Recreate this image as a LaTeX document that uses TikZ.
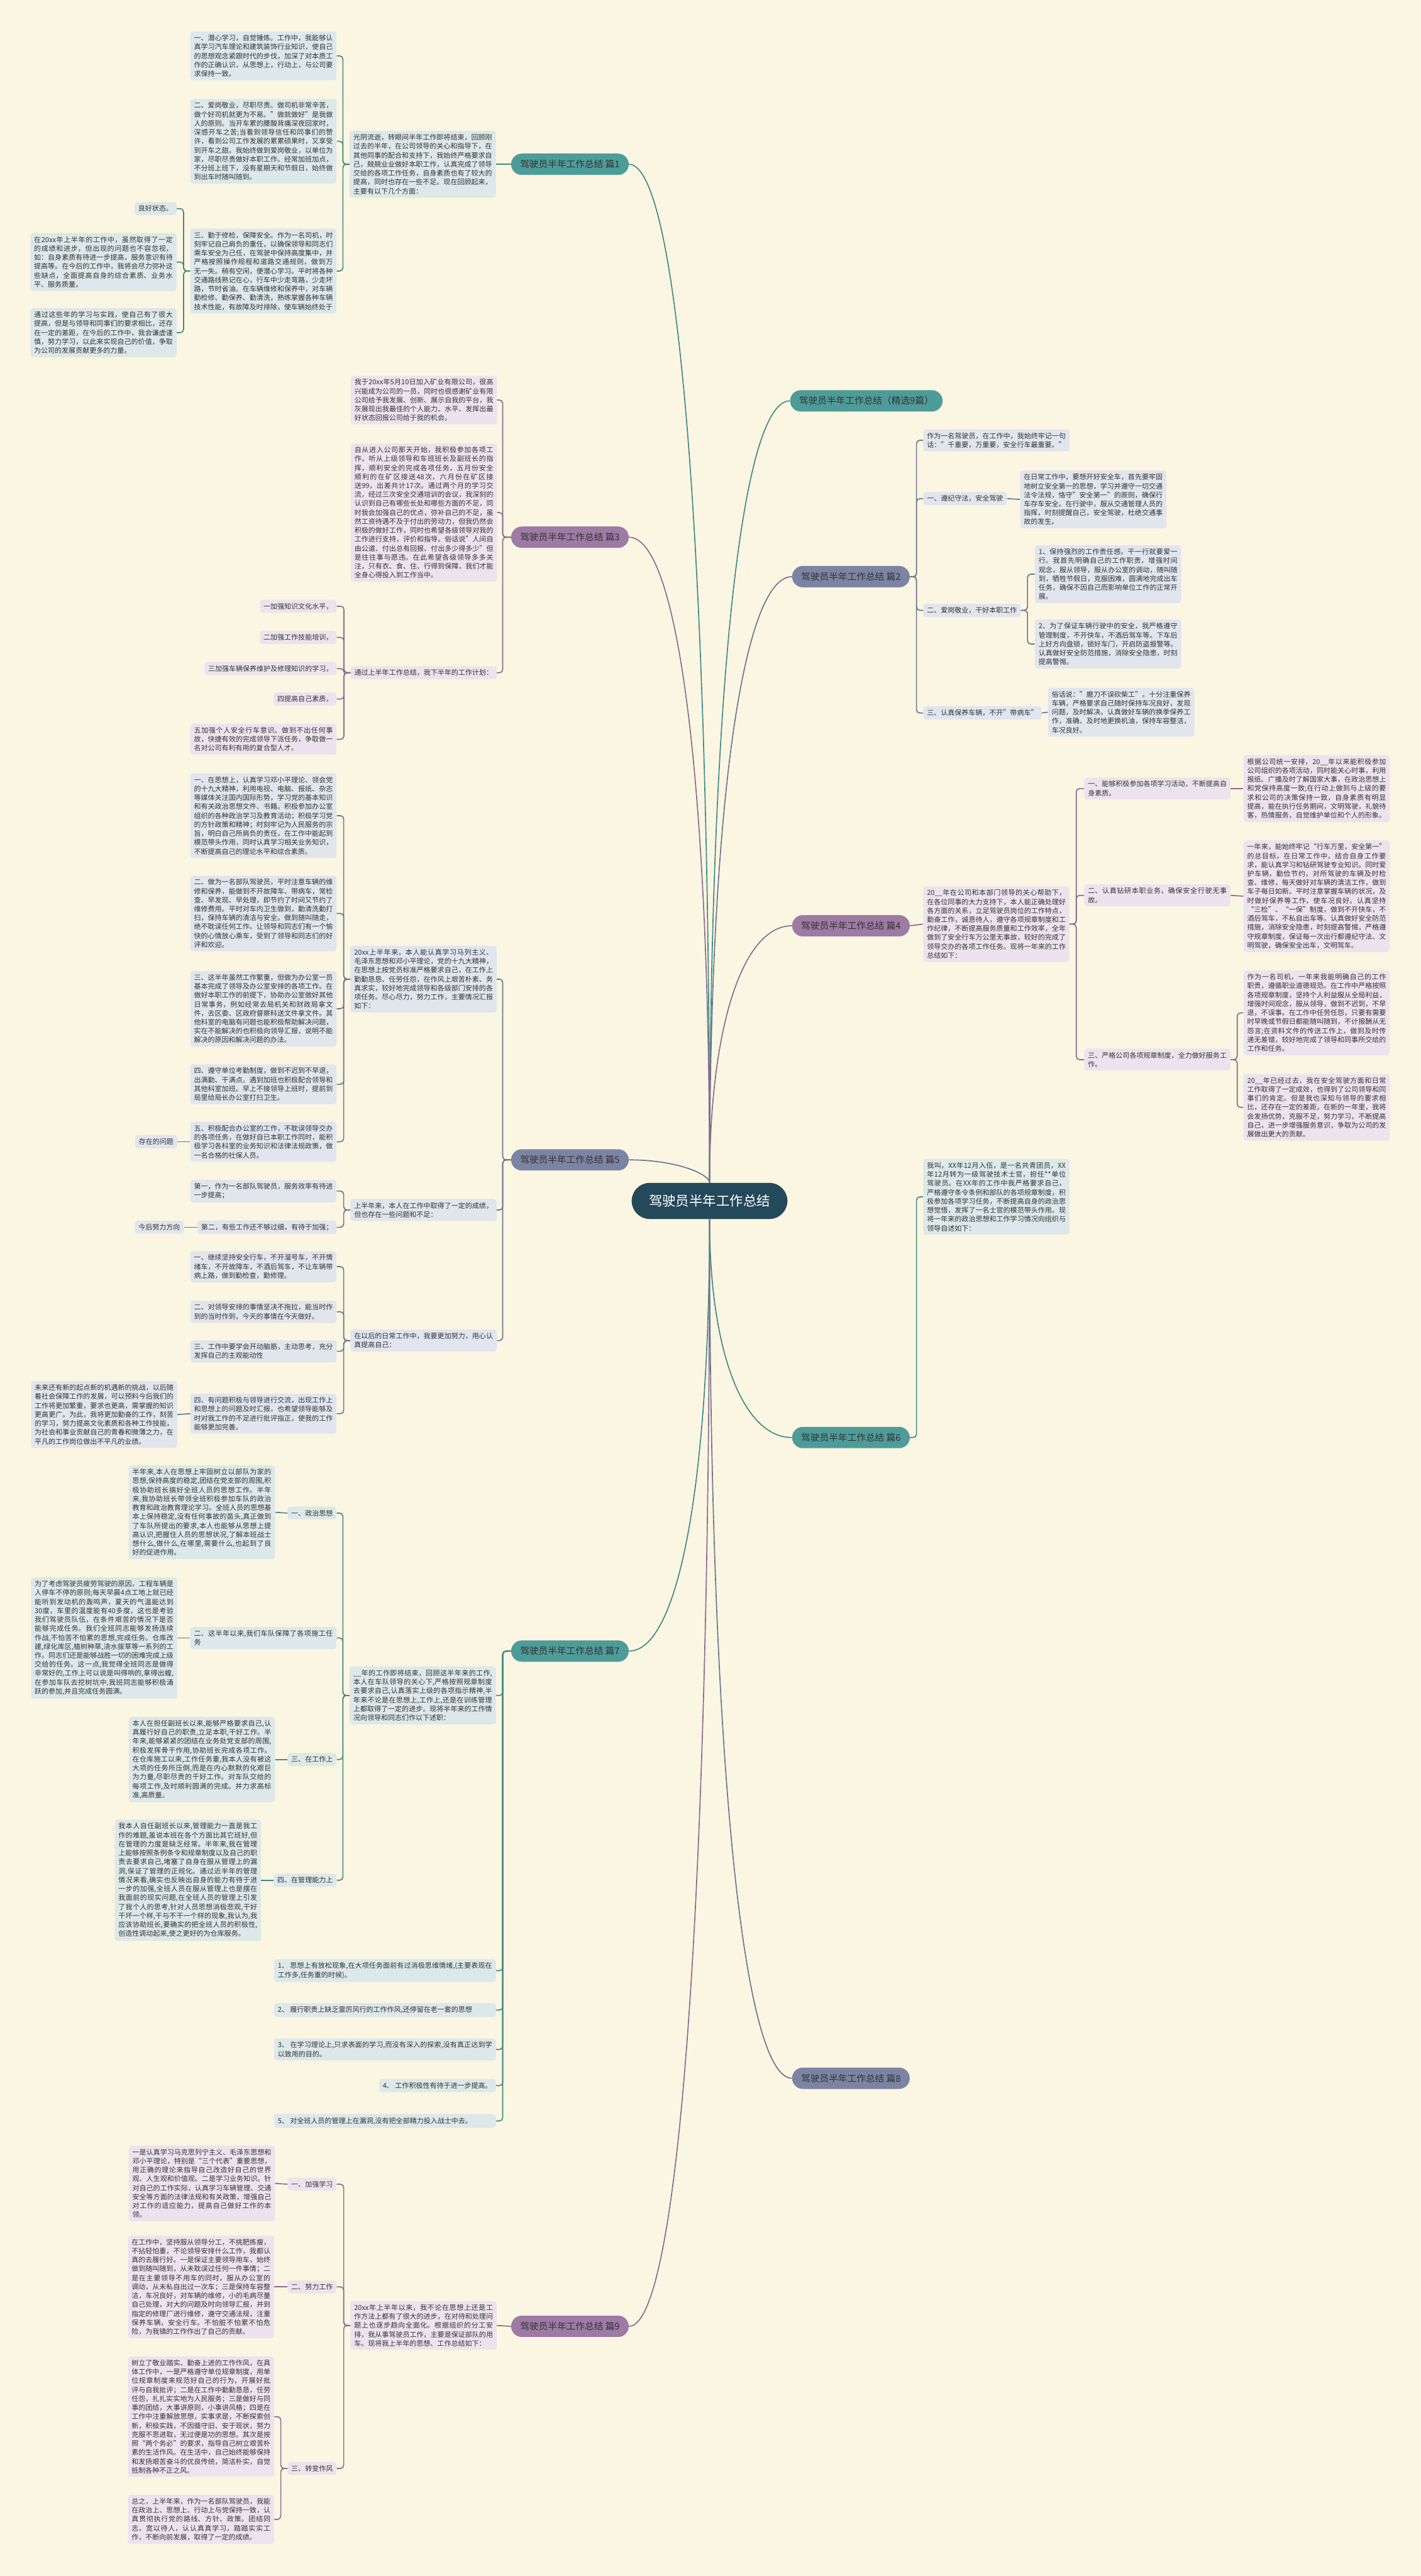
\documentclass[tikz,border=0pt]{standalone}
\usepackage{fontspec}
\setmainfont{Noto Sans CJK SC}
\XeTeXlinebreaklocale "zh"
\XeTeXlinebreakskip=0pt plus 1pt
\usetikzlibrary{positioning}

\definecolor{bgc}{HTML}{FBF6E1}
\definecolor{txtc}{HTML}{333333}
\definecolor{rootc}{HTML}{23495A}
\definecolor{tpill}{HTML}{4E9C9A}
\definecolor{tline}{HTML}{3F8A88}
\definecolor{tfill}{HTML}{DCE8E9}
\definecolor{ppill}{HTML}{9D7BA4}
\definecolor{pline}{HTML}{8C6A92}
\definecolor{pfill}{HTML}{EDE3EE}
\definecolor{gpill}{HTML}{7B85A3}
\definecolor{gline}{HTML}{6B7592}
\definecolor{gfill}{HTML}{E1E5EE}

\tikzset{
    % text boxes of the three branch colours
    box/.style={fill=#1, rounded corners=1mm, inner xsep=1.35mm, inner ysep=1.2mm,
                font=\fontsize{7.2}{9.3}\selectfont, text=txtc},
    tbox/.style={box=tfill, text width=50.7mm, align=justify},
    pbox/.style={box=pfill, text width=50.7mm, align=justify},
    gbox/.style={box=gfill, text width=50.7mm, align=justify},
    tlab/.style={box=tfill},
    plab/.style={box=pfill},
    glab/.style={box=gfill},
    pill/.style={fill=#1, rounded corners=3.9mm, minimum height=7.8mm, inner xsep=3.3mm,
                 font=\fontsize{9.6}{11}\selectfont, text=txtc},
}

\begin{document}
\begin{tikzpicture}[x=0.06cm, y=-0.06cm,
    tl/.style={draw=tline, line width=1.1pt, rounded corners=1.2mm},
    pl/.style={draw=pline, line width=1.1pt, rounded corners=1.2mm},
    gl/.style={draw=gline, line width=1.1pt, rounded corners=1.2mm},
    rootnode/.style={fill=rootc, rounded corners=6.6mm, minimum height=13.2mm, inner xsep=6.3mm,
                     font=\fontsize{14}{16}\selectfont, text=white},
  ]
  \fill[bgc] (0,0) rectangle (865,1568);
  \useasboundingbox (0,0) rectangle (865,1568);

  \node[rootnode] (root) at (432,731) {驾驶员半年工作总结};

  %% ---------- left: 篇1
  \node[pill=tpill] (p1) at (347,100) {驾驶员半年工作总结 篇1};
  \node[tbox, anchor=east] (p1t) at (302,100) {光阴流逝，转眼间半年工作即将结束，回顾刚过去的半年，在公司领导的关心和指导下，在其他同事的配合和支持下，我始终严格要求自己，兢兢业业做好本职工作，认真完成了领导交给的各项工作任务，自身素质也有了较大的提高，同时也存在一些不足。现在回顾起来，主要有以下几个方面：};
  \node[tbox, anchor=east] (p1a) at (205,34) {一、潜心学习，自觉锤炼。工作中，我能够认真学习汽车理论和建筑装饰行业知识，使自己的思想观念紧跟时代的步伐，加深了对本质工作的正确认识，从思想上，行动上，与公司要求保持一致。};
  \node[tbox, anchor=east] (p1b) at (205,86) {二、爱岗敬业，尽职尽责。做司机非常辛苦，做个好司机就更为不易。"做就做好"是我做人的原则。当开车累的腰酸背痛深夜回家时，深感开车之苦;当看到领导信任和同事们的赞许，看到公司工作发展的累累硕果时，又享受到开车之甜。我始终做到爱岗敬业，以单位为家，尽职尽责做好本职工作。经常加班加点，不分班上班下，没有星期天和节假日，始终做到出车时随叫随到。};
  \node[tbox, anchor=east] (p1c) at (205,165) {三、勤于修检，保障安全。作为一名司机，时刻牢记自己肩负的重任，以确保领导和同志们乘车安全为己任，在驾驶中保持高度集中，并严格按照操作规程和道路交通规则，做到万无一失。稍有空闲，便潜心学习。平时将各种交通路线熟记在心，行车中少走弯路，少走坏路，节时省油。在车辆维修和保养中，对车辆勤检修、勤保养、勤清洗，熟练掌握各种车辆技术性能，有故障及时排除，使车辆始终处于};
  \node[tlab, anchor=east] (p1c1) at (107.6,127) {良好状态。};
  \node[tbox, anchor=east] (p1c2) at (107.6,159.5) {在20xx年上半年的工作中，虽然取得了一定的成绩和进步，但出现的问题也不容忽视，如：自身素质有待进一步提高，服务意识有待提高等。在今后的工作中，我将会尽力弥补这些缺点，全面提高自身的综合素质、业务水平、服务质量。};
  \node[tbox, anchor=east] (p1c3) at (107.6,202.5) {通过这些年的学习与实践，使自己有了很大提高，但是与领导和同事们的要求相比，还存在一定的差距，在今后的工作中，我会谦虚谨慎，努力学习，以此来实现自己的价值，争取为公司的发展贡献更多的力量。};
  \draw[tl] (p1.west) -- (p1t.east);
  \foreach \c in {p1a,p1b,p1c} \draw[tl] (p1t.west) -- ++(-4,0) |- (\c.east);
  \foreach \c in {p1c1,p1c2,p1c3} \draw[tl] (p1c.west) -- ++(-4,0) |- (\c.east);

  %% ---------- left: 篇3
  \node[pill=ppill] (p3) at (347,327) {驾驶员半年工作总结 篇3};
  \node[pbox, anchor=east] (p3a) at (302.7,243.5) {我于20xx年5月10日加入矿业有限公司，很高兴能成为公司的一员，同时也很感谢矿业有限公司给予我发展、创新、展示自我的平台，我灰展现出我最佳的个人能力、水平、发挥出最好状态回报公司给于我的机会。};
  \node[pbox, anchor=east] (p3b) at (302.7,312) {自从进入公司那天开始，我积极参加各项工作，听从上级领导和车班班长及副班长的指挥，顺利安全的完成各项任务，五月份安全顺利的在矿区接送48次，六月份在矿区接送99，出差共计17次。通过两个月的学习交流，经过三次安全交通培训的会议，我深刻的认识到自己有哪些长处和哪些方面的不足，同时我会加强自己的优点，弥补自己的不足，虽然工资待遇不及于付出的劳动力，但我仍然会积极的做好工作，同时也希望各级领导对我的工作进行支持，评价和指导。俗话说"人间自由公道、付出总有回报、付出多少得多少"但是往往事与愿违。在此希望各级领导多多关注，只有衣、食、住、行得到保障，我们才能全身心得投入到工作当中。};
  \node[plab, anchor=east] (p3c) at (302.5,409.5) {通过上半年工作总结，我下半年的工作计划：};
  \node[plab, anchor=east] (p3c1) at (205,369) {一加强知识文化水平，};
  \node[plab, anchor=east] (p3c2) at (205,388) {二加强工作技能培训，};
  \node[plab, anchor=east] (p3c3) at (205,407) {三加强车辆保养维护及修理知识的学习，};
  \node[plab, anchor=east] (p3c4) at (205,425.5) {四提高自己素质，};
  \node[pbox, anchor=east] (p3c5) at (205,450) {五加强个人安全行车意识。做到不出任何事故，快捷有效的完成领导下派任务，争取做一名对公司有利有用的复合型人才。};
  \foreach \c in {p3a,p3b,p3c} \draw[pl] (p3.west) -- ++(-5,0) |- (\c.east);
  \foreach \c in {p3c1,p3c2,p3c3,p3c4,p3c5} \draw[pl] (p3c.west) -- ++(-4,0) |- (\c.east);

  %% ---------- left: 篇5
  \node[pill=gpill] (p5) at (347,706) {驾驶员半年工作总结 篇5};
  \node[gbox, anchor=east] (p5a) at (302.5,596) {20xx上半年来，本人能认真学习马列主义、毛泽东思想和邓小平理论，党的十九大精神，在思想上按党员标准严格要求自己，在工作上勤勤恳恳、任劳任怨，在作风上艰苦朴素、务真求实，较好地完成领导和各级部门安排的各项任务。尽心尽力，努力工作，主要情况汇报如下：};
  \node[gbox, anchor=east] (p5b) at (302.5,736.5) {上半年来，本人在工作中取得了一定的成绩，但也存在一些问题和不足：};
  \node[gbox, anchor=east] (p5c) at (302.5,816) {在以后的日常工作中，我要更加努力，用心认真提高自己：};
  \node[gbox, anchor=east] (p5a1) at (205,496.5) {一、在思想上，认真学习邓小平理论、领会党的十九大精神，利用电视、电脑、报纸、杂志等媒体关注国内国际形势，学习党的基本知识和有关政治思想文件、书籍。积极参加办公室组织的各种政治学习及教育活动；积极学习党的方针政策和精神；时刻牢记为人民服务的宗旨，明白自己所肩负的责任，在工作中能起到模范带头作用，同时认真学习相关业务知识，不断提高自己的理论水平和综合素质。};
  \node[gbox, anchor=east] (p5a2) at (205,556) {二、做为一名部队驾驶员，平时注意车辆的维修和保养，能做到不开故障车、带病车，常检查、早发现、早处理，即节约了时间又节约了维修费用。平时对车内卫生做到，勤清洗勤打扫，保持车辆的清洁与安全。做到随叫随走，绝不耽误任何工作。让领导和同志们有一个愉快的心情放心乘车，受到了领导和同志们的好评和欢迎。};
  \node[gbox, anchor=east] (p5a3) at (205,614) {三、这半年虽然工作繁重，但做为办公室一员基本完成了领导及办公室安排的各项工作。在做好本职工作的前提下，协助办公室做好其他日常事务，例如经常去局机关和财政局拿文件，去区委、区政府督察科送文件拿文件。其他科室的电脑有问题也能积极帮助解决问题，实在不能解决的也积极向领导汇报，说明不能解决的原因和解决问题的办法。};
  \node[gbox, anchor=east] (p5a4) at (205,660) {四、遵守单位考勤制度，做到不迟到不早退，出满勤、干满点。遇到加班也积极配合领导和其他科室加班。早上不接领导上班时，提前到局里给局长办公室打扫卫生。};
  \node[gbox, anchor=east] (p5a5) at (205,695) {五、积极配合办公室的工作，不耽误领导交办的各项任务，在做好自已本职工作同时，能积极学习各科室的业务知识和法律法规政策，做一名合格的社保人员。};
  \node[glab, anchor=east] (p5a5x) at (108,695) {存在的问题};
  \node[gbox, anchor=east] (p5b1) at (205,725) {第一，作为一名部队驾驶员，服务效率有待进一步提高；};
  \node[glab, anchor=east] (p5b2) at (205,747) {第二，有些工作还不够过细，有待于加强；};
  \node[glab, anchor=east] (p5b2x) at (112,747) {今后努力方向};
  \node[gbox, anchor=east] (p5c1) at (205,771) {一、继续坚持安全行车，不开溜号车，不开情绪车，不开故障车，不酒后驾车，不让车辆带病上路，做到勤检查，勤修理。};
  \node[gbox, anchor=east] (p5c2) at (205,798.5) {二、对领导安排的事情坚决不拖拉，能当时作到的当时作到，今天的事情在今天做好。};
  \node[gbox, anchor=east] (p5c3) at (205,822.5) {三、工作中要学会开动脑筋，主动思考，充分发挥自己的主观能动性};
  \node[gbox, anchor=east] (p5c4) at (205,860.5) {四、有问题积极与领导进行交流，出现工作上和思想上的问题及时汇报，也希望领导能够及时对我工作的不足进行批评指正，使我的工作能够更加完善。};
  \node[gbox, anchor=east] (p5c4x) at (108,861) {未来还有新的起点新的机遇新的挑战，以后随着社会保障工作的发展，可以预料今后我们的工作将更加繁重，要求也更高，需掌握的知识更高更广。为此，我将更加勤奋的工作，刻苦的学习，努力提高文化素质和各种工作技能，为社会和事业贡献自己的青春和微薄之力，在平凡的工作岗位做出不平凡的业绩。};
  \foreach \c in {p5a,p5b,p5c} \draw[gl] (p5.west) -- ++(-5,0) |- (\c.east);
  \foreach \c in {p5a1,p5a2,p5a3,p5a4,p5a5} \draw[gl] (p5a.west) -- ++(-4,0) |- (\c.east);
  \foreach \c in {p5b1,p5b2} \draw[gl] (p5b.west) -- ++(-4,0) |- (\c.east);
  \foreach \c in {p5c1,p5c2,p5c3,p5c4} \draw[gl] (p5c.west) -- ++(-4,0) |- (\c.east);
  \draw[gl] (p5a5.west) -- (p5a5x.east);
  \draw[gl] (p5b2.west) -- (p5b2x.east);
  \draw[gl] (p5c4.west) -- (p5c4x.east);

  %% ---------- left: 篇7
  \node[pill=tpill] (p7) at (347,1005) {驾驶员半年工作总结 篇7};
  \node[tbox, anchor=east] (p7a) at (302,1032) {\_\_年的工作即将结束，回顾这半年来的工作,本人在车队领导的关心下,严格按照规章制度去要求自己,认真落实上级的各项指示精神,半年来不论是在思想上,工作上,还是在训练管理上都取得了一定的进步。现将半年来的工作情况向领导和同志们作以下述职：};
  \node[tlab, anchor=east] (p7a1) at (205,921) {一、政治思想};
  \node[tbox, anchor=east] (p7a2) at (205,997) {二、这半年以来,我们车队保障了各项施工任务};
  \node[tlab, anchor=east] (p7a3) at (205,1071) {三、在工作上};
  \node[tlab, anchor=east] (p7a4) at (205,1144.5) {四、在管理能力上};
  \node[tbox, anchor=east] (p7a1x) at (167.5,920.5) {半年来,本人在思想上牢固树立以部队为家的思想,保持高度的稳定,团结在党支部的周围,积极协助班长搞好全班人员的思想工作。半年来,我协助班长带领全班积极参加车队的政治教育和政治教育理论学习。全班人员的思想基本上保持稳定,没有任何事故的苗头,真正做到了车队所提出的要求,本人也能够从思想上提高认识,把握住人员的思想状况,了解本班战士想什么,做什么,在哪里,需要什么,也起到了良好的促进作用。};
  \node[tbox, anchor=east] (p7a2x) at (108,997) {为了考虑驾驶员疲劳驾驶的原因，工程车辆是人停车不停的原则;每天早晨4点工地上就已经能听到发动机的轰鸣声，夏天的气温能达到30度，车里的温度能有40多度，这也是考验我们驾驶员队伍，在条件艰苦的情况下是否能够完成任务。我们全班同志能够发扬连续作战,不怕苦不怕累的思想,完成任务。仓库改建,绿化库区,植树种草,浇水拔草等一系列的工作。同志们还是能够战胜一切的困难完成上级交给的任务。这一点,我觉得全班同志是做得非常好的,工作上可以说是叫得响的,拿得出蝗,在参加车队去挖树坑中,我班同志能够积极涌跃的参加,并且完成任务圆满。};
  \node[tbox, anchor=east] (p7a3x) at (167.5,1071) {本人在担任副班长以来,能够严格要求自己,认真履行好自己的职责,立足本职,干好工作。半年来,能够紧紧的团结在业务处党支部的周围,积极发挥骨干作用,协助班长完成各项工作。在仓库施工以来,工作任务重,我本人没有被这大项的任务所压倒,而是在内心默默的化艰巨为力量,尽职尽责的干好工作。对车队交给的每项工作,及时顺利圆满的完成。并力求高标准,高质量。};
  \node[tbox, anchor=east] (p7a4x) at (159,1144.5) {我本人自任副班长以来,管理能力一直是我工作的难题,虽说本班在各个方面比其它班好,但在管理的力度是缺乏经常。半年来,我在管理上能够按照条例条令和规章制度以及自己的职责去要求自己,堵塞了自身在服从管理上的漏洞,保证了管理的正规化。通过近半年的管理情况来看,确实也反映出自身的能力有待于进一步的加强,全班人员在服从管理上也是摆在我面前的现实问题,在全班人员的管理上引发了我个人的思考,针对人员思想消极悲观,干好干坏一个样,干与不干一个样的现象,我认为,我应该协助班长,要确实的把全班人员的积极性,创造性调动起来,使之更好的为仓库服务。};
  \node[tbox, text width=78.3mm, anchor=east] (p7b1) at (302,1199.5) {1、 思想上有放松现象,在大项任务面前有过消极思维情绪,(主要表现在工作多,任务重的时候)。};
  \node[tbox, text width=78.3mm, anchor=east] (p7b2) at (302,1223.5) {2、 履行职责上缺乏雷厉风行的工作作风,还停留在老一套的思想};
  \node[tbox, text width=78.3mm, anchor=east] (p7b3) at (302,1247.5) {3、 在学习理论上,只求表面的学习,而没有深入的探索,没有真正达到学以致用的目的。};
  \node[tlab, anchor=east] (p7b4) at (302,1269.5) {4、 工作积极性有待于进一步提高。};
  \node[tbox, text width=78.3mm, anchor=east] (p7b5) at (302,1291) {5、 对全班人员的管理上在漏洞,没有把全部精力投入战士中去。};
  \foreach \c in {p7a,p7b1,p7b2,p7b3,p7b4,p7b5} \draw[tl] (p7.west) -- ++(-5,0) |- (\c.east);
  \foreach \c in {p7a1,p7a2,p7a3,p7a4} \draw[tl] (p7a.west) -- ++(-4,0) |- (\c.east);
  \draw[tl] (p7a1.west) -- (p7a1x.east);
  \draw[tl] (p7a2.west) -- (p7a2x.east);
  \draw[tl] (p7a3.west) -- (p7a3x.east);
  \draw[tl] (p7a4.west) -- (p7a4x.east);

  %% ---------- left: 篇9
  \node[pill=ppill] (p9) at (347,1416) {驾驶员半年工作总结 篇9};
  \node[pbox, anchor=east] (p9a) at (302.5,1415.5) {20xx年上半年以来，我不论在思想上还是工作方法上都有了很大的进步，在对待和处理问题上也逐步趋向全面化。根据组织的分工安排，我从事驾驶员工作，主要是保证部队的用车。现将我上半年的思想、工作总结如下：};
  \node[plab, anchor=east] (p9a1) at (205,1329.5) {一、加强学习};
  \node[plab, anchor=east] (p9a2) at (205,1392) {二、努力工作};
  \node[plab, anchor=east] (p9a3) at (205,1502.5) {三、转变作风};
  \node[pbox, anchor=east] (p9a1x) at (167.5,1329) {一是认真学习马克思列宁主义、毛泽东思想和邓小平理论，特别是“三个代表”重要思想，用正确的理论来指导自己改造好自己的世界观、人生观和价值观。二是学习业务知识。针对自己的工作实际，认真学习车辆管理、交通安全等方面的法律法规和有关政策，增强自己对工作的适应能力，提高自己做好工作的本领。};
  \node[pbox, anchor=east] (p9a2x) at (167,1392) {在工作中，坚持服从领导分工，不挑肥拣瘦，不拈轻怕重，不论领导安排什么工作，我都认真的去履行好。一是保证主要领导用车，始终做到随叫随到，从未耽误过任何一件事情；二是在主要领导不用车的同时，服从办公室的调动，从未私自出过一次车；三是保持车容整洁，车况良好，对车辆的维修，小的毛病尽量自己处理，对大的问题及时向领导汇报，并到指定的修理厂进行维修，遵守交通法规，注重保养车辆，安全行车。不怕脏不怕累不怕危险，为我镇的工作作出了自己的贡献。};
  \node[pbox, anchor=east] (p9a3a) at (167,1471) {树立了敬业踏实、勤奋上进的工作作风，在具体工作中，一是严格遵守单位规章制度，用单位规章制度来规范好自己的行为，开展好批评与自我批评；二是在工作中勤勤恳恳，任劳任怨，扎扎实实地为人民服务；三是做好与同事的团结，大事讲原则，小事讲风格；四是在工作中注重解放思想，实事求是，不断探索创新，积极实践，不因循守旧、安于现状，努力克服不思进取，无过便是功的思想。其次是按照“两个务必”的要求，指导自己树立艰苦朴素的生活作风。在生活中，自己始终能够保持和发扬艰苦奋斗的优良传统，简洁朴实，自觉抵制各种不正之风。};
  \node[pbox, anchor=east] (p9a3b) at (167,1533.5) {总之，上半年来，作为一名部队驾驶员，我能在政治上、思想上、行动上与党保持一致，认真贯彻执行党的路线、方针、政策。团结同志，宽以待人，认认真真学习，踏踏实实工作，不断向前发展，取得了一定的成绩。};
  \draw[pl] (p9.west) -- (p9a.east);
  \foreach \c in {p9a1,p9a2,p9a3} \draw[pl] (p9a.west) -- ++(-4,0) |- (\c.east);
  \draw[pl] (p9a1.west) -- (p9a1x.east);
  \draw[pl] (p9a2.west) -- (p9a2x.east);
  \foreach \c in {p9a3a,p9a3b} \draw[pl] (p9a3.west) -- ++(-4,0) |- (\c.east);

  %% ---------- right: 精选 and 篇2
  \node[pill=tpill, anchor=east] (pj) at (574,244) {驾驶员半年工作总结（精选9篇）};
  \node[pill=gpill, anchor=east] (p2) at (554,351) {驾驶员半年工作总结 篇2};
  \node[gbox, anchor=west] (p2a) at (562,268) {作为一名驾驶员，在工作中，我始终牢记一句话："千重要，万重要，安全行车最重要。"};
  \node[glab, anchor=west] (p2b) at (562,303.5) {一、遵纪守法，安全驾驶};
  \node[glab, anchor=west] (p2c) at (562,371.5) {二、爱岗敬业，干好本职工作};
  \node[glab, anchor=west] (p2d) at (562,434) {三、认真保养车辆，不开"带病车"};
  \node[gbox, anchor=west] (p2bx) at (621,304) {在日常工作中，要想开好安全车，首先要牢固地树立安全第一的思想，学习并遵守一切交通法令法规，恪守"安全第一"的原则，确保行车存车安全。在行驶中，服从交通管理人员的指挥，时刻提醒自己，安全驾驶，杜绝交通事故的发生。};
  \node[gbox, anchor=west] (p2c1) at (630,349.5) {1、保持强烈的工作责任感。干一行就要爱一行。我首先明确自己的工作职责，增强时间观念，服从领导，服从办公室的调动，随叫随到，牺牲节假日，克服困难，圆满地完成出车任务，确保不因自己而影响单位工作的正常开展。};
  \node[gbox, anchor=west] (p2c2) at (630,392) {2、为了保证车辆行驶中的安全，我严格遵守管理制度，不开快车，不酒后驾车等。下车后上好方向盘锁，锁好车门，开启防盗报警等。认真做好安全防范措施，消除安全隐患，时刻提高警惕。};
  \node[gbox, anchor=west] (p2dx) at (638,433.5) {俗话说："磨刀不误砍柴工"。十分注重保养车辆，严格要求自己随时保持车况良好，发现问题，及时解决。认真做好车辆的换季保养工作，准确、及时地更换机油，保持车容整洁，车况良好。};
  \foreach \c in {p2a,p2b,p2c,p2d} \draw[gl] (p2.east) -- ++(4,0) |- (\c.west);
  \draw[gl] (p2b.east) -- (p2bx.west);
  \foreach \c in {p2c1,p2c2} \draw[gl] (p2c.east) -- ++(4,0) |- (\c.west);
  \draw[gl] (p2d.east) -- (p2dx.west);

  %% ---------- right: 篇4
  \node[pill=ppill, anchor=east] (p4) at (554,563.5) {驾驶员半年工作总结 篇4};
  \node[pbox, anchor=west] (p4a) at (562,562.5) {20\_\_年在公司和本部门领导的关心帮助下，在各位同事的大力支持下，本人能正确处理好各方面的关系，立足驾驶员岗位的工作特点，勤奋工作，诚恳待人，遵守各项规章制度和工作纪律，不断提高服务质量和工作效率，全年做到了安全行车万公里无事故，较好的完成了领导交办的各项工作任务。现将一年来的工作总结如下：};
  \node[pbox, anchor=west] (p4a1) at (660,480) {一、能够积极参加各项学习活动，不断提高自身素质。};
  \node[pbox, anchor=west] (p4a2) at (660,545) {二、认真钻研本职业务，确保安全行驶无事故。};
  \node[pbox, anchor=west] (p4a3) at (660,645) {三、严格公司各项规章制度，全力做好服务工作。};
  \node[pbox, anchor=west] (p4a1x) at (757,480) {根据公司统一安排，20\_\_年以来能积极参加公司组织的各项活动，同时能关心时事，利用报纸、广播及时了解国家大事，在政治思想上和党保持高度一致;在行动上做到与上级的要求和公司的决策保持一致，自身素质有明显提高，能在执行任务期间，文明驾驶，礼貌待客，热情服务，自觉维护单位和个人的形象。};
  \node[pbox, anchor=west] (p4a2x) at (757,545.5) {一年来，能始终牢记“行车万里，安全第一”的总目标，在日常工作中，结合自身工作要求，能认真学习和钻研驾驶专业知识。同时爱护车辆，勤俭节约，对所驾驶的车辆及时检查、维修，每天做好对车辆的清洁工作，做到车子每日如新。平时注意掌握车辆的状况，及时做好保养等工作，使车况良好。认真坚持“三检”、“一保”制度，做到不开快车，不酒后驾车，不私自出车等。认真做好安全防范措施，消除安全隐患，时刻提高警惕，严格遵守规章制度，保证每一次出行都遵纪守法、文明驾驶，确保安全出车，文明驾车。};
  \node[pbox, anchor=west] (p4a3a) at (757,616.5) {作为一名司机，一年来我能明确自己的工作职责，遵循职业道德规范。在工作中严格按照各项规章制度，坚持个人利益服从全局利益，增强时间观念，服从领导，做到不迟到，不早退，不误事。在工作中任劳任怨，只要有需要时早晚或节假日都能随叫随到，不计报酬从无怨言;在资料文件的传送工作上，做到及时传递无差错，较好地完成了领导和同事所交给的工作和任务。};
  \node[pbox, anchor=west] (p4a3b) at (757,674) {20\_\_年已经过去，我在安全驾驶方面和日常工作取得了一定成效，也得到了公司领导和同事们的肯定。但是我也深知与领导的要求相比，还存在一定的差距，在新的一年里，我将会发扬优势，克服不足，努力学习，不断提高自己，进一步增强服务意识，争取为公司的发展做出更大的贡献。};
  \draw[pl] (p4.east) -- (p4a.west);
  \foreach \c in {p4a1,p4a2,p4a3} \draw[pl] (p4a.east) -- ++(4,0) |- (\c.west);
  \draw[pl] (p4a1.east) -- (p4a1x.west);
  \draw[pl] (p4a2.east) -- (p4a2x.west);
  \foreach \c in {p4a3a,p4a3b} \draw[pl] (p4a3.east) -- ++(4,0) |- (\c.west);

  %% ---------- right: 篇6 and 篇8
  \node[pill=tpill, anchor=east] (p6) at (554,875) {驾驶员半年工作总结 篇6};
  \node[tbox, anchor=west] (p6a) at (562,728.5) {我叫，XX年12月入伍，是一名共青团员，XX年12月转为一级驾驶技术士官，担任**单位驾驶员。在XX年的工作中我严格要求自己，严格遵守条令条例和部队的各项规章制度，积极参加各项学习任务，不断提高自身的政治思想觉悟，发挥了一名士官的模范带头作用。现将一年来的政治思想和工作学习情况向组织与领导自述如下：};
  \draw[tl] (p6.east) -- ++(4,0) |- (p6a.west);
  \node[pill=gpill, anchor=east] (p8) at (554,1265) {驾驶员半年工作总结 篇8};

  %% ---------- main curves
  \draw[tl] (p1.east) .. controls +(30,0) and (432,333) .. (root);
  \draw[pl] (p3.east) .. controls +(30,0) and (432,476) .. (root);
  \draw[gl] (p5.east) .. controls +(30,0) and (432,715) .. (root);
  \draw[tl] (p7.east) .. controls +(30,0) and (432,904) .. (root);
  \draw[pl] (p9.east) .. controls +(30,0) and (432,1163) .. (root);
  \draw[tl] (pj.west) .. controls +(-30,0) and (432,424) .. (root);
  \draw[gl] (p2.west) .. controls +(-30,0) and (432,492) .. (root);
  \draw[pl] (p4.west) .. controls +(-30,0) and (432,625) .. (root);
  \draw[tl] (p6.west) .. controls +(-30,0) and (432,822) .. (root);
  \draw[gl] (p8.west) .. controls +(-30,0) and (432,1067) .. (root);
\end{tikzpicture}
\end{document}
